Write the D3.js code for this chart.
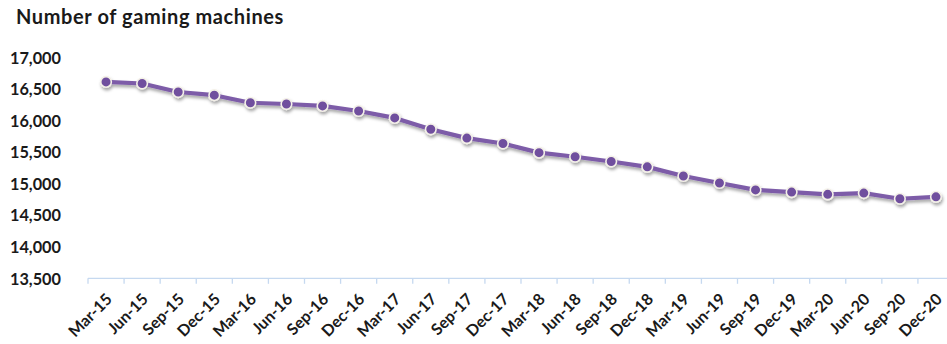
<!DOCTYPE html>
<html>
<head>
<meta charset="utf-8">
<script src="https://cdn.jsdelivr.net/npm/d3@7/dist/d3.min.js"></script>
<style>
  html, body { margin: 0; padding: 0; background: #fff; }
  svg { display: block; font-family: Lato, "Open Sans", sans-serif; }
</style>
</head>
<body>
<svg id="chart" width="947" height="344"></svg>
<script>
// Quarterly count of gaming machines
const quarters = [
  "Mar-15","Jun-15","Sep-15","Dec-15",
  "Mar-16","Jun-16","Sep-16","Dec-16",
  "Mar-17","Jun-17","Sep-17","Dec-17",
  "Mar-18","Jun-18","Sep-18","Dec-18",
  "Mar-19","Jun-19","Sep-19","Dec-19",
  "Mar-20","Jun-20","Sep-20","Dec-20"
];
const machines = [
  16610, 16585, 16450, 16400,
  16280, 16260, 16230, 16150,
  16040, 15860, 15720, 15635,
  15490, 15425, 15350, 15265,
  15120, 15010, 14900, 14865,
  14830, 14850, 14760, 14790
];
const yTicks = [13500, 14000, 14500, 15000, 15500, 16000, 16500, 17000];
const chartTitle = "Number of gaming machines";

const svg = d3.select("#chart");
const plot = { left: 88, right: 954, top: 57.3, bottom: 278.3 };

const x = d3.scaleBand().domain(quarters).range([plot.left, plot.right]).paddingInner(0).paddingOuter(0);
const y = d3.scaleLinear().domain([13500, 17000]).range([plot.bottom, plot.top]);

const defs = svg.append("defs");
const shadow = defs.append("filter").attr("id", "shadow")
  .attr("x", "-10%").attr("y", "-30%").attr("width", "120%").attr("height", "160%");
shadow.append("feDropShadow").attr("dx", 1).attr("dy", 2.5).attr("stdDeviation", 1.6)
  .attr("flood-color", "#000").attr("flood-opacity", 0.35);

// Title
svg.append("text")
  .attr("x", 16).attr("y", 24)
  .attr("font-size", 20).attr("font-weight", 700).attr("letter-spacing", 0.6)
  .attr("fill", "#1a1a1a")
  .text(chartTitle);

// Value axis labels (no axis line)
const yAxis = svg.append("g").attr("transform", `translate(${plot.left},0)`)
  .call(d3.axisLeft(y).tickValues(yTicks).tickSize(0).tickPadding(27)
    .tickFormat(d3.format(",")));
yAxis.select(".domain").remove();
yAxis.selectAll("text")
  .attr("font-family", "Lato, 'Open Sans', sans-serif")
  .attr("font-size", 16.3).attr("font-weight", 700).attr("fill", "#1a1a1a")
  .attr("dy", "0.35em");

// Category axis
const xAxisG = svg.append("g").attr("transform", `translate(0,${plot.bottom})`);
xAxisG.append("line").attr("x1", plot.left).attr("x2", plot.right).attr("y1", 0).attr("y2", 0)
  .attr("stroke", "#c6d9f0").attr("stroke-width", 1.3);
xAxisG.selectAll("line.tick").data(quarters).join("line").attr("class", "tick")
  .attr("x1", d => x(d)).attr("x2", d => x(d)).attr("y1", 0).attr("y2", 5.5)
  .attr("stroke", "#c6d9f0").attr("stroke-width", 1.3);
xAxisG.selectAll("text").data(quarters).join("text")
  .attr("transform", d => `translate(${x(d) + x.bandwidth() / 2 + 7},${22}) rotate(-45)`)
  .attr("text-anchor", "end")
  .attr("font-size", 16).attr("font-weight", 700).attr("fill", "#1a1a1a")
  .text(d => d);

// Series line and markers
const pts = quarters.map((q, i) => ({ q, v: machines[i] }));
const line = d3.line().x(d => x(d.q) + x.bandwidth() / 2).y(d => y(d.v));

const series = svg.append("g").attr("filter", "url(#shadow)");
series.append("path").datum(pts)
  .attr("d", line).attr("fill", "none")
  .attr("stroke", "#7d5ca8").attr("stroke-width", 4.2).attr("stroke-linejoin", "round");
series.selectAll("circle").data(pts).join("circle")
  .attr("cx", d => x(d.q) + x.bandwidth() / 2).attr("cy", d => y(d.v))
  .attr("r", 5.3).attr("fill", "#6f4f9e")
  .attr("stroke", "#f4f1e8").attr("stroke-width", 1.6);
</script>
</body>
</html>
